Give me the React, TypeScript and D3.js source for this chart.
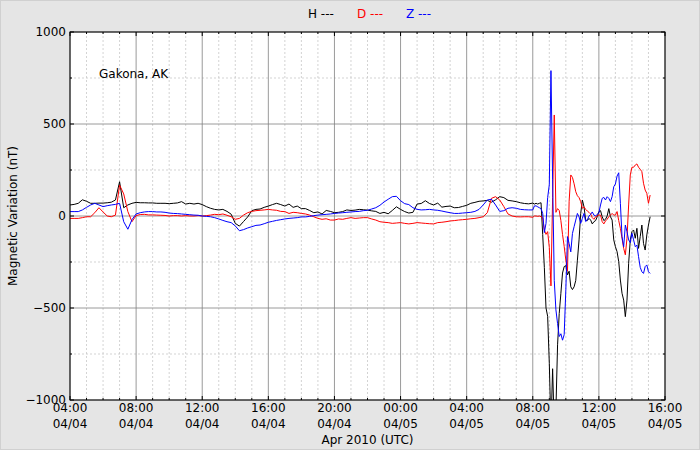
import React from "react";
import * as d3 from "d3";

// ---- data ----
const START = Date.UTC(2010, 3, 4, 4, 0);
const END = Date.UTC(2010, 3, 5, 16, 0);
// hours since 04:00 04/04 — quarter-hour samples, then tenth-hour samples during the storm
const hours: number[] = [
  ...d3.range(0, 113).map((i) => i * 0.25),
  ...d3.range(1, 72).map((i) => 28 + i * 0.1),
];

const H: number[] = [
  60, 63, 69, 88, 80, 69, 69, 70, 70, 72,
  75, 87, 186, 45, 60, 69, 74, 72, 72, 71,
  71, 69, 69, 69, 67, 69, 71, 78, 65, 69,
  65, 69, 62, 51, 42, 36, 33, 36, 25, 10,
  -40, -55, -30, -5, 29, 36, 38, 47, 54, 62,
  69, 62, 54, 65, 47, 54, 40, 40, 30, 18,
  22, 11, 30, 25, 18, 20, 24, 33, 30, 32,
  36, 34, 32, 28, 25, 14, 20, 12, 30, 50,
  36, 24, 16, 20, 65, 68, 83, 68, 60, 70,
  48, 52, 54, 45, 46, 52, 58, 69, 74, 80,
  82, 85, 75, 88, 105, 100, 85, 82, 78, 72,
  68, 66, 70,
  // storm
  65, 69, 65, 69, 72, -100, -280, -500, -545, -800,
  -1150, -830, -1150, -1050, -700, -530, -420, -310, -275, -270,
  -320, -300, -385, -400, -385, -350, -240, -130, 14, 87,
  50, -22, -25, -13, -22, -43, -31, -25, -4, 24,
  29, -4, -25, -18, 0, 40, -4, -22, -130, -167,
  -194, -248, -348, -420, -457, -547, -457, -257, -130, -85,
  -76, -121, -67, -176, -112, -49, -149, -185, -103, -49, -4,
];

const D: number[] = [
  -13, -13, -13, -9, -4, -4, 18, 45, 22, 0,
  -4, 5, 168, 120, 24, -31, 2, 8, 9, 6,
  6, 5, 4, 3, 0, 2, 2, 0, 2, 0,
  0, 2, 0, 2, 5, 9, 7, 11, 4, -4,
  -18, -13, 5, 18, 25, 29, 31, 33, 36, 33,
  31, 25, 24, 14, 20, 18, 14, 11, 5, -4,
  -13, -18, -15, -22, -22, -16, -18, -13, -9, -13,
  -11, -9, -9, -16, -22, -31, -34, -36, -40, -38,
  -36, -40, -43, -40, -36, -38, -40, -42, -43, -36,
  -34, -31, -27, -25, -22, -20, -18, -15, -13, -9,
  -4, 18, 96, 105, 87, 51, 11, 0, -4, -5,
  -4, -4, -7,
  // storm
  0, 0, -2, 0, -4, -10, -76, -100, -85, -170,
  -380, 100, 549, 20, 40, 30, -25, -100, -165, -240,
  -300, 80, 223, 210, 175, 132, 110, 100, 78, 42,
  50, 36, 27, 20, 11, -9, -18, -4, 0, 5,
  5, -31, -43, -27, -18, -4, 5, 14, 5, 5,
  24, -25, -67, -121, -176, -211, -121, 60, 223, 265,
  265, 277, 283, 265, 254, 241, 178, 141, 123, 69, 114,
];

const Z: number[] = [
  24, 24, 24, 33, 47, 60, 69, 60, 51, 56,
  60, 63, 69, -31, -72, -20, 11, 18, 22, 24,
  24, 22, 22, 20, 16, 14, 13, 11, 9, 7,
  5, 4, 0, -2, -4, -9, -16, -24, -31, -36,
  -54, -80, -74, -65, -58, -51, -49, -42, -34, -29,
  -24, -20, -16, -13, -11, -9, -5, -5, -2, 2,
  5, 7, 9, 11, 14, 16, 18, 20, 22, 24,
  25, 29, 31, 38, 45, 58, 76, 91, 105, 107,
  83, 67, 62, 45, 36, 33, 34, 36, 33, 31,
  27, 22, 18, 14, 14, 16, 18, 20, 25, 36,
  60, 87, 91, 60, 25, 29, 42, 45, 42, 36,
  34, 33, 33,
  // storm
  55, 55, 50, 45, 40, 14, -90, -40, 100, 170,
  790, 200, -350, -510, -585, -655, -640, -675, -645, -400,
  -112, -150, -195, -95, -58, -22, 14, -5, -40, -13,
  14, -30, -22, 0, 9, 22, 5, 0, 9, 18,
  60, 96, 101, 87, 105, 96, 78, 105, 159, 174,
  217, 235, 69, -112, -167, -49, -85, -130, -145, -94,
  -130, -167, -158, -221, -279, -303, -312, -275, -266, -303, -312,
];

const seriesNames = ["H", "D", "Z"];
const seriesColors = ["#000000", "#ff0000", "#0000ff"];
const seriesValues = [H, D, Z];
const yMajorTicks = [-1000, -500, 0, 500, 1000];
const yMinorTicks = [-750, -250, 250, 750];
const station = "Gakona, AK";
const xTitle = "Apr 2010 (UTC)";
const yTitle = "Magnetic Variation (nT)";

// ---- layout ----
const W = 700;
const HT = 450;
const L = 70, R = 665, T = 32, B = 400;
const FONT = "DejaVu Sans, sans-serif";

export default function App() {
  const x = d3.scaleUtc().domain([new Date(START), new Date(END)]).range([L, R]);
  const y = d3.scaleLinear().domain([-1000, 1000]).range([B, T]);
  const majorX = x.ticks(d3.utcHour.every(4) as any);
  const minorX = x.ticks(d3.utcHour.every(1) as any).filter((d) => d.getUTCHours() % 4 !== 0);
  const fmtT = d3.utcFormat("%H:%M");
  const fmtD = d3.utcFormat("%m/%d");
  const fmtY = d3.format("d");

  const dates = hours.map((h) => new Date(START + h * 3600000));
  const line = d3
    .line<number>()
    .x((_, i) => x(dates[i]))
    .y((v) => y(v));

  return (
    <div style={{ position: "absolute", left: 0, top: 0, width: W, height: HT }}>
      <svg width={W} height={HT} style={{ display: "block", fontFamily: FONT }}>
        <rect x={0} y={0} width={W} height={HT} fill="#e5e5e5" />
        <rect x={0.5} y={0.5} width={W - 1} height={HT - 1} fill="none" stroke="#d0d0d0" />
        <rect x={L} y={T} width={R - L} height={B - T} fill="#ffffff" />
        <defs>
          <clipPath id="plotclip">
            <rect x={L} y={T} width={R - L} height={B - T} />
          </clipPath>
        </defs>
        {/* minor grid */}
        {minorX.map((d, i) => (
          <line key={"mx" + i} x1={x(d)} x2={x(d)} y1={T} y2={B} stroke="#c8c8c8" strokeWidth={0.8} strokeDasharray="2,2" />
        ))}
        {yMinorTicks.map((v, i) => (
          <line key={"my" + i} x1={L} x2={R} y1={y(v)} y2={y(v)} stroke="#c8c8c8" strokeWidth={0.8} strokeDasharray="2,2" />
        ))}
        {/* major grid */}
        {majorX.map((d, i) => (
          <line key={"Mx" + i} x1={x(d)} x2={x(d)} y1={T} y2={B} stroke="#808080" strokeWidth={0.8} />
        ))}
        {yMajorTicks.map((v, i) => (
          <line key={"My" + i} x1={L} x2={R} y1={y(v)} y2={y(v)} stroke="#808080" strokeWidth={0.8} />
        ))}
        {/* series */}
        <g clipPath="url(#plotclip)">
          {seriesValues.map((vals, si) => (
            <path key={si} d={line(vals) || ""} fill="none" stroke={seriesColors[si]} strokeWidth={1} strokeLinejoin="round" />
          ))}
        </g>
        {/* tick marks (inside, all sides) */}
        {majorX.map((d, i) => (
          <g key={"tx" + i}>
            <line x1={x(d)} x2={x(d)} y1={B} y2={B - 4} stroke="#000" />
            <line x1={x(d)} x2={x(d)} y1={T} y2={T + 4} stroke="#000" />
          </g>
        ))}
        {minorX.map((d, i) => (
          <g key={"tmx" + i}>
            <line x1={x(d)} x2={x(d)} y1={B} y2={B - 2} stroke="#000" />
            <line x1={x(d)} x2={x(d)} y1={T} y2={T + 2} stroke="#000" />
          </g>
        ))}
        {yMajorTicks.map((v, i) => (
          <g key={"ty" + i}>
            <line x1={L} x2={L + 4} y1={y(v)} y2={y(v)} stroke="#000" />
            <line x1={R} x2={R - 4} y1={y(v)} y2={y(v)} stroke="#000" />
          </g>
        ))}
        {yMinorTicks.map((v, i) => (
          <g key={"tmy" + i}>
            <line x1={L} x2={L + 2} y1={y(v)} y2={y(v)} stroke="#000" />
            <line x1={R} x2={R - 2} y1={y(v)} y2={y(v)} stroke="#000" />
          </g>
        ))}
        {/* frame */}
        <rect x={L} y={T} width={R - L} height={B - T} fill="none" stroke="#000" strokeWidth={1} />
        {/* tick labels */}
        {yMajorTicks.map((v, i) => (
          <text key={"yl" + i} x={L - 4} y={y(v)} dy="0.35em" textAnchor="end" fontSize={12} fill="#000">
            {fmtY(v)}
          </text>
        ))}
        {majorX.map((d, i) => (
          <g key={"xl" + i}>
            <text x={x(d)} y={B + 12} textAnchor="middle" fontSize={12} fill="#000">{fmtT(d)}</text>
            <text x={x(d)} y={B + 28} textAnchor="middle" fontSize={12} fill="#000">{fmtD(d)}</text>
          </g>
        ))}
        <text x={(L + R) / 2} y={444} textAnchor="middle" fontSize={12} fill="#000">{xTitle}</text>
        <text transform={`translate(17,${(T + B) / 2}) rotate(-90)`} textAnchor="middle" fontSize={12} fill="#000">{yTitle}</text>
        <text x={99} y={78} fontSize={12} fill="#000">{station}</text>
        {/* legend */}
        {seriesNames.map((n, i) => (
          <text key={"lg" + i} x={308 + i * 49} y={18} fontSize={12} fill={seriesColors[i]}>{n + " ---"}</text>
        ))}
      </svg>
    </div>
  );
}
